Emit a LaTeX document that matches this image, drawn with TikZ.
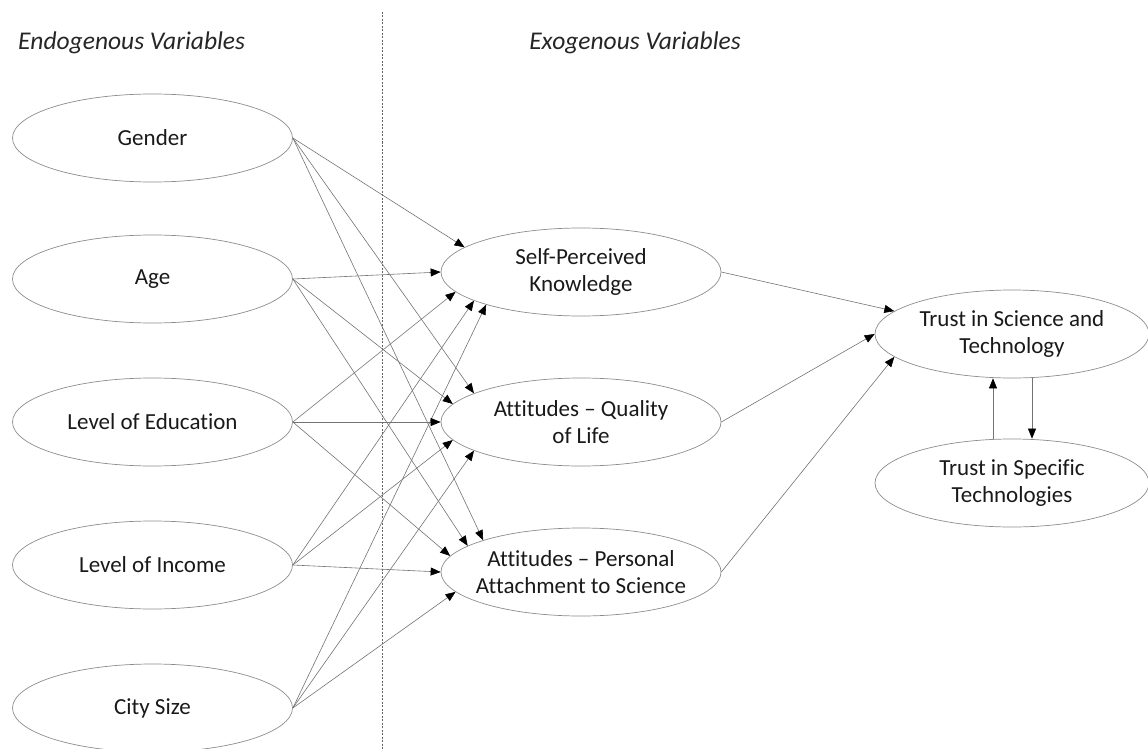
\documentclass[tikz,border=0pt]{standalone}
\usepackage{fontspec}
\setmainfont{Carlito}[Ligatures={NoCommon}]
\usetikzlibrary{shapes.geometric,arrows.meta}
\begin{document}
\begin{tikzpicture}[x=1pt,y=-1pt,
  var/.style={ellipse,draw=black!45,line width=0.7pt,minimum width=280pt,minimum height=88pt,
    inner xsep=-9pt,inner ysep=0pt,align=center,font=\fontsize{23}{27.5}\selectfont,text=black!90},
  rvar/.style={var,minimum width=274pt},
  link/.style={draw=black!55,line width=0.6pt,-{Triangle[length=10pt,width=8pt,color=black]}},
  ttl/.style={font=\fontsize{25.5}{30}\selectfont\itshape,text=black!85,inner sep=0pt},
  sepline/.style={draw=black!60,line width=0.6pt,dash pattern=on 2pt off 1.5pt}]
\useasboundingbox (0,0) rectangle (1148,749);

% titles
\node[ttl,anchor=west] (endo) at (18,43) {Endogenous Variables};
\node[ttl] (exo) at (635,43) {Exogenous Variables};

% separator
\coordinate (dtop) at (382,12);
\coordinate (dbot) at (382,749);
\draw[sepline] (dtop) -- (dbot);

% left nodes
\node[var] (g) at (152.5,138) {Gender};
\node[var] (a) at (152.5,279) {Age};
\node[var] (e) at (152.5,422) {Level of Education};
\node[var] (i) at (152.5,565) {Level of Income};
\node[var] (c) at (152.5,708) {City Size};

% middle nodes
\node[var] (s) at (581,272) {Self-Perceived\\Knowledge};
\node[var] (q) at (581,422) {Attitudes – Quality\\of Life};
\node[var] (p) at (581,572) {Attitudes – Personal\\Attachment to Science};

% right nodes
\node[rvar] (t) at (1012,334) {Trust in Science and\\Technology};
\node[rvar] (sp) at (1012,483) {Trust in Specific\\Technologies};

% to Self-Perceived Knowledge
\draw[link] (g.east) -- (s.168);
\draw[link] (a.east) -- (s.180);
\draw[link] (e.east) -- (s.189);
\draw[link] (i.east) -- (s.195);
\draw[link] (c.east) -- (s.199);

% to Attitudes - Quality of Life
\draw[link] (g.east) -- (q.165);
\draw[link] (a.east) -- (q.172);
\draw[link] (e.east) -- (q.180);
\draw[link] (i.east) -- (q.188);
\draw[link] (c.east) -- (q.195);

% to Attitudes - Personal Attachment
\draw[link] (g.east) -- (p.162);
\draw[link] (a.east) -- (p.167);
\draw[link] (e.east) -- (p.173);
\draw[link] (i.east) -- (p.180);
\draw[link] (c.east) -- (p.189);

% to Trust in Science and Technology
\draw[link] (s.east) -- (t.169);
\draw[link] (q.east) -- (t.180);
\draw[link] (p.east) -- (t.191);

% between right nodes
\coordinate (ux) at (993,0);
\coordinate (dx) at (1032,0);
\draw[link] (sp.north -| ux) -- (t.south -| ux);
\draw[link] (t.south -| dx) -- (sp.north -| dx);
\end{tikzpicture}
\end{document}
